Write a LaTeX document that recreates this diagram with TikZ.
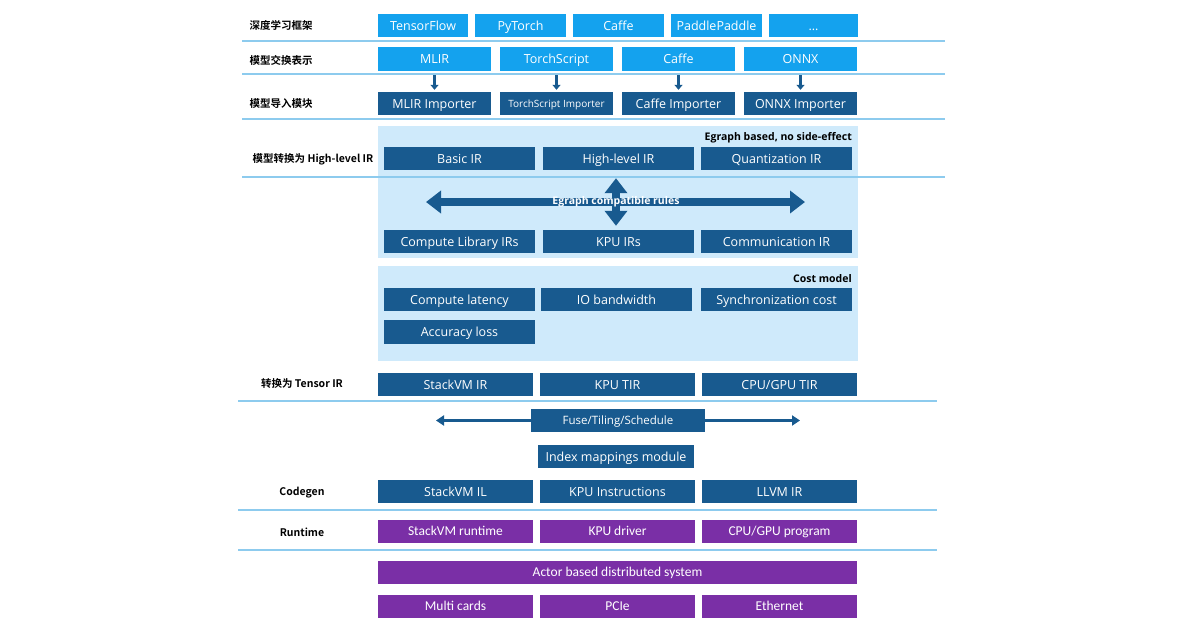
\documentclass[tikz,border=0pt]{standalone}
\usepackage{fontspec}
\setmainfont{Open Sans}
\newfontfamily\cjkb[BoldFont=Noto Sans CJK SC Bold]{Noto Sans CJK SC}
\newfontfamily\calib{Carlito}
\usetikzlibrary{arrows.meta}
\definecolor{lb}{HTML}{14A2EE}
\definecolor{db}{HTML}{185A8F}
\definecolor{pu}{HTML}{7A2FA6}
\definecolor{pan}{HTML}{CFEAFB}
\definecolor{sep}{HTML}{8DCBEE}
\tikzset{
  boxbase/.style={inner sep=0pt, text=white, text height=9pt, text depth=0pt, font=\fontsize{12.5}{14}\selectfont},
  lbox/.style={boxbase, fill=lb},
  dbox/.style={boxbase, fill=db},
  pbox/.style={boxbase, fill=pu, text height=8.5pt, font=\calib\fontsize{13.5}{15}\selectfont},
  rowlabel/.style={font=\cjkb\bfseries\fontsize{10.5}{12}\selectfont, inner sep=0pt},
  seprule/.style={draw=sep, line width=1.2pt},
  panel/.style={fill=pan},
  smallarrow/.style={draw=db, line width=2.5pt, -{Triangle[width=8pt,length=5pt]}},
  bigarrow/.style={draw=db, line width=8pt, {Triangle[width=22pt,length=15pt]}-{Triangle[width=22pt,length=15pt]}},
  midarrow/.style={draw=db, line width=3.5pt, -{Triangle[width=10pt,length=8pt]}},
  note/.style={font=\bfseries\fontsize{10.5}{12}\selectfont, inner sep=0pt, anchor=east}
}
\begin{document}
\begin{tikzpicture}[x=1pt,y=-1pt]
\useasboundingbox[fill=white] (0,0) rectangle (1200,630);
% separators
\draw[seprule] (242,41) -- (945,41);
\draw[seprule] (242,74) -- (945,74);
\draw[seprule] (242,119) -- (945,119);
% panels
\fill[panel] (378,126) rectangle (858,258);
\fill[panel] (378,266) rectangle (858,361);
\draw[seprule] (242,177) -- (945,177);
\draw[seprule] (238,401) -- (937,401);
\draw[seprule] (238,510) -- (937,510);
\draw[seprule] (238,550) -- (937,550);
% row labels
\node[rowlabel] (l1) at (281,25.5) {深度学习框架};
\node[rowlabel] (l2) at (281,60) {模型交换表示};
\node[rowlabel] (l3) at (281,104) {模型导入模块};
\node[rowlabel] (l4) at (313,159.5) {模型转换为 High-level IR};
\node[rowlabel] (l5) at (302,383.5) {转换为 Tensor IR};
\node[rowlabel] (l6) at (302,492.5) {Codegen};
\node[rowlabel] (l7) at (302,532.5) {Runtime};
% row 1
\node[lbox, minimum width=90, minimum height=23] (tf) at (423,25.5) {TensorFlow};
\node[lbox, minimum width=91, minimum height=23] (pt) at (520.5,25.5) {PyTorch};
\node[lbox, minimum width=91, minimum height=23] (cf) at (618.5,25.5) {Caffe};
\node[lbox, minimum width=91, minimum height=23] (pp) at (716.5,25.5) {PaddlePaddle};
\node[lbox, minimum width=89, minimum height=23] (etc) at (813.5,25.5) {...};
% row 2
\node[lbox, minimum width=113, minimum height=24] (mlir) at (434.5,59) {MLIR};
\node[lbox, minimum width=113, minimum height=24] (ts) at (556.5,59) {TorchScript};
\node[lbox, minimum width=113, minimum height=24] (cf2) at (678.5,59) {Caffe};
\node[lbox, minimum width=113, minimum height=24] (onnx) at (800.5,59) {ONNX};
% row 3
\node[dbox, minimum width=113, minimum height=23] (mlirI) at (434.5,103.5) {MLIR Importer};
\node[dbox, minimum width=113, minimum height=23, text height=7.5pt, font=\fontsize{10}{11}\selectfont] (tsI) at (556.5,103.5) {TorchScript Importer};
\node[dbox, minimum width=113, minimum height=23] (cfI) at (678.5,103.5) {Caffe Importer};
\node[dbox, minimum width=113, minimum height=23] (onnxI) at (800.5,103.5) {ONNX Importer};
\draw[smallarrow, shorten <=4pt, shorten >=2pt] (mlir.south) -- (mlirI.north);
\draw[smallarrow, shorten <=4pt, shorten >=2pt] (ts.south) -- (tsI.north);
\draw[smallarrow, shorten <=4pt, shorten >=2pt] (cf2.south) -- (cfI.north);
\draw[smallarrow, shorten <=4pt, shorten >=2pt] (onnx.south) -- (onnxI.north);
% panel 1
\node[note] (n1) at (852,138) {Egraph based, no side-effect};
\node[dbox, minimum width=151, minimum height=23] (bir) at (459.5,158.5) {Basic IR};
\node[dbox, minimum width=151, minimum height=23] (hir) at (618.5,158.5) {High-level IR};
\node[dbox, minimum width=151, minimum height=23] (qir) at (776.5,158.5) {Quantization IR};
\node[dbox, minimum width=151, minimum height=23] (cl) at (459.5,241.5) {Compute Library IRs};
\node[dbox, minimum width=151, minimum height=23] (kir) at (618.5,241.5) {KPU IRs};
\node[dbox, minimum width=151, minimum height=23] (cir) at (776.5,241.5) {Communication IR};
\coordinate (ea) at (426,202);
\coordinate (eb) at (805,202);
\draw[bigarrow] (ea) -- (eb);
\draw[bigarrow, shorten <=8pt, shorten >=4pt] (hir.south -| 616,0) -- (kir.north -| 616,0);
\node[font=\bfseries\fontsize{10.5}{12}\selectfont, text=white, inner sep=0pt] (egr) at (616,202) {Egraph compatible rules};
% panel 2
\node[note] (n2) at (852,279) {Cost model};
\node[dbox, minimum width=151, minimum height=23] (lat) at (459.5,299.5) {Compute latency};
\node[dbox, minimum width=151, minimum height=23] (iob) at (616.5,299.5) {IO bandwidth};
\node[dbox, minimum width=151, minimum height=23] (syn) at (776.5,299.5) {Synchronization cost};
\node[dbox, minimum width=151, minimum height=24] (acc) at (459.5,332) {Accuracy loss};
% tensor IR
\node[dbox, minimum width=155, minimum height=23] (svir) at (455.5,384.5) {StackVM IR};
\node[dbox, minimum width=155, minimum height=23] (ktir) at (617.5,384.5) {KPU TIR};
\node[dbox, minimum width=155, minimum height=23] (ctir) at (779.5,384.5) {CPU/GPU TIR};
% fuse
\node[dbox, minimum width=174, minimum height=23, text height=8pt, font=\fontsize{11.5}{13}\selectfont] (fuse) at (618,420.5) {Fuse/Tiling/Schedule};
\coordinate (fl) at (436,420.5);
\coordinate (fr) at (800,420.5);
\draw[midarrow] (fuse.west) -- (fl);
\draw[midarrow] (fuse.east) -- (fr);
\node[dbox, minimum width=156, minimum height=23] (idx) at (616,456.5) {Index mappings module};
% codegen
\node[dbox, minimum width=155, minimum height=23] (sil) at (455.5,491.5) {StackVM IL};
\node[dbox, minimum width=155, minimum height=23] (kins) at (617.5,491.5) {KPU Instructions};
\node[dbox, minimum width=155, minimum height=23] (llvm) at (779.5,491.5) {LLVM IR};
% runtime
\node[pbox, minimum width=155, minimum height=23] (srt) at (455.5,531.5) {StackVM runtime};
\node[pbox, minimum width=155, minimum height=23] (kdr) at (617.5,531.5) {KPU driver};
\node[pbox, minimum width=155, minimum height=23] (cgp) at (779.5,531.5) {CPU/GPU program};
\node[pbox, minimum width=479, minimum height=23] (act) at (617.5,572.5) {Actor based distributed system};
\node[pbox, minimum width=155, minimum height=23] (mc) at (455.5,606.5) {Multi cards};
\node[pbox, minimum width=155, minimum height=23] (pcie) at (617.5,606.5) {PCIe};
\node[pbox, minimum width=155, minimum height=23] (eth) at (779.5,606.5) {Ethernet};
\end{tikzpicture}
\end{document}
